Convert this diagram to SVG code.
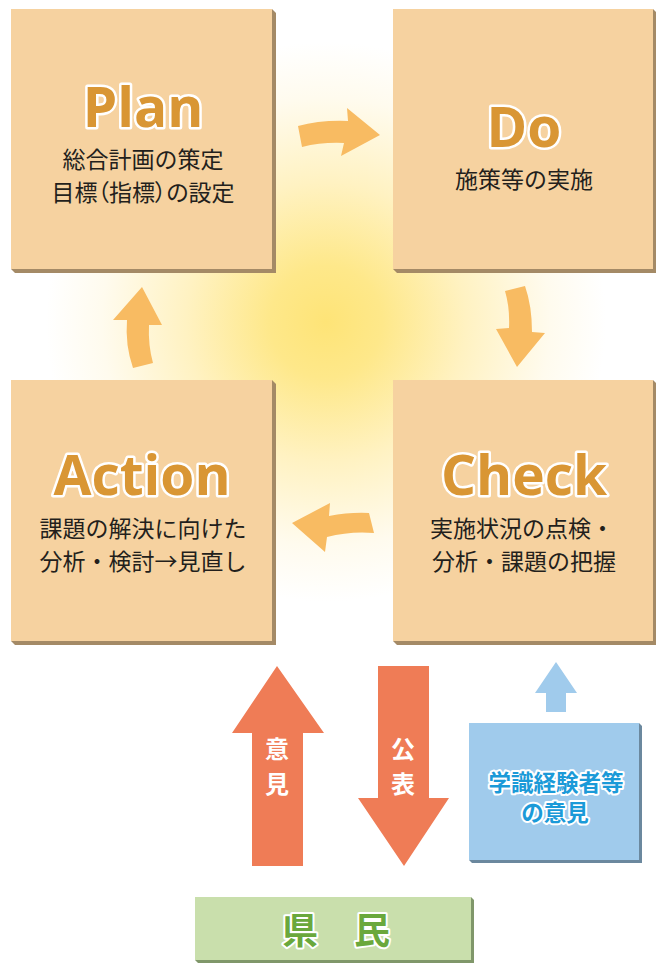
<svg xmlns="http://www.w3.org/2000/svg" width="656" height="967" viewBox="0 0 656 967">
<defs>
<radialGradient id="glow" cx="326" cy="322" r="280" gradientUnits="userSpaceOnUse">
<stop offset="0" stop-color="#fee477"/>
<stop offset="0.2" stop-color="#fee88a"/>
<stop offset="0.5" stop-color="#fff2c2"/>
<stop offset="0.8" stop-color="#fffbee"/>
<stop offset="1" stop-color="#ffffff"/>
</radialGradient>
<style>
.face{fill:#f6d2a0}
.shadow{fill:#a48a66}
.title{font-family:"Open Sans","Noto Sans",sans-serif;font-weight:700;font-size:55px;fill:#d99634;stroke:#ffffff;stroke-width:5;stroke-linejoin:round;paint-order:stroke;text-anchor:middle}
.sub{font-family:"Noto Sans CJK JP",sans-serif;font-size:23px;fill:#231f1c;text-anchor:middle}
.palt{font-feature-settings:"palt"}
.cyc{fill:#f8bb62}
.red{fill:#ef7c56}
.vt{font-family:"Noto Sans CJK JP",sans-serif;font-weight:700;font-size:24px;fill:#ffffff;text-anchor:middle}
.blue{font-family:"Noto Sans CJK JP",sans-serif;font-weight:700;font-size:22.5px;fill:#1b9ad8;stroke:#ffffff;stroke-width:4;stroke-linejoin:round;paint-order:stroke;text-anchor:middle}
.green{font-family:"Noto Sans CJK JP",sans-serif;font-weight:700;font-size:36px;fill:#6aa83c;stroke:#ffffff;stroke-width:4;stroke-linejoin:round;paint-order:stroke;text-anchor:middle}
</style>
</defs>
<rect x="0" y="0" width="656" height="967" fill="#ffffff"/>
<rect x="0" y="0" width="656" height="700" fill="url(#glow)"/>

<g id="plan">
<polygon class="shadow" points="11,269 15,273 276,273 276,13 272,9"/>
<rect class="face" x="11" y="9" width="261" height="260"/>
<text class="title" x="143" y="127">Plan</text>
<text class="sub" x="143" y="168">総合計画の策定</text>
<text class="sub palt" x="143" y="201">目標（指標）の設定</text>
</g>

<g id="do">
<polygon class="shadow" points="393,269 397,273 657,273 657,13 653,9"/>
<rect class="face" x="393" y="9" width="260" height="260"/>
<text class="title" x="524" y="147">Do</text>
<text class="sub" x="524" y="188">施策等の実施</text>
</g>

<g id="action">
<polygon class="shadow" points="11,641 15,645 276,645 276,384 272,380"/>
<rect class="face" x="11" y="380" width="261" height="261"/>
<text class="title" x="142" y="495">Action</text>
<text class="sub" x="143" y="537">課題の解決に向けた</text>
<text class="sub" x="143" y="570">分析・検討→見直し</text>
</g>

<g id="check">
<polygon class="shadow" points="393,641 397,645 657,645 657,384 653,380"/>
<rect class="face" x="393" y="380" width="260" height="261"/>
<text class="title" x="524" y="495">Check</text>
<text class="sub" x="522" y="537">実施状況の点検・</text>
<text class="sub" x="524" y="570">分析・課題の把握</text>
</g>

<g id="experts">
<polygon points="469,860 472,863 642,863 642,726 639,723" fill="#6b889e"/>
<rect x="469" y="723" width="170" height="137" fill="#a0cbec"/>
<text class="blue" x="556" y="791">学識経験者等</text>
<text class="blue" x="555" y="821">の意見</text>
</g>

<g id="kenmin">
<polygon points="195,960 198,963 474,963 474,900 471,897" fill="#80976a"/>
<rect x="195" y="897" width="276" height="63" fill="#c9dfac"/>
<text class="green" x="336" y="944">県　民</text>
</g>

<g id="connectors">
<path class="cyc" d="M298,126 Q320,120 348,121 L347,108 L380,135 L341,156 L344,143 Q322,142 302,147 Z"/>
<path class="cyc" d="M505,291 L525,286 Q532,306 532,332 L545,333 L517,367 L496,329 L509,328 Q510,308 505,291 Z"/>
<path class="cyc" d="M292,523 L330,503 L329,516 Q350,512 369,513 L374,533 Q350,531 327,537 L325,552 Z"/>
<path class="cyc" d="M133,368 Q125,345 127,320 L113,320 L142,287 L162,325 L149,325 Q148,345 153,363 Z"/>
<g id="opinion-arrow">
<polygon class="red" points="277,666 324,733 303,733 303,866 252,866 252,733 232,733"/>
<text class="vt" x="277" y="758">意</text>
<text class="vt" x="277" y="793">見</text>
</g>
<g id="publish-arrow">
<polygon class="red" points="378,666 429,666 429,798 449,798 404,866 358,798 378,798"/>
<text class="vt" x="403" y="758">公</text>
<text class="vt" x="403" y="793">表</text>
</g>
<polygon fill="#a0cbec" points="556,662 577,693 566,693 566,712 546,712 546,693 535,693"/>
</g>
</svg>
